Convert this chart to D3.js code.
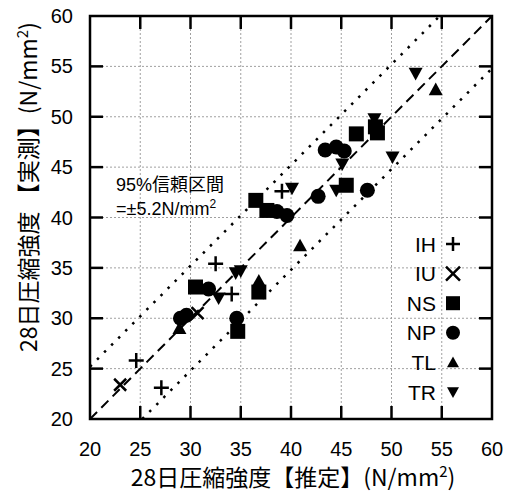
<!DOCTYPE html>
<html>
<head>
<meta charset="utf-8">
<script src="https://cdn.jsdelivr.net/npm/d3@7"></script>
<style>
body { margin: 0; background: #fff; }
text { font-family: "Liberation Sans", Arial, "Noto Sans CJK JP", sans-serif; fill: #000; }
.jp { font-family: "Noto Sans CJK JP", sans-serif; font-weight: normal; }
</style>
</head>
<body>
<div id="canvas"></div>
<script>
// data
const xTicks = [20, 25, 30, 35, 40, 45, 50, 55, 60];
const yTicks = [20, 25, 30, 35, 40, 45, 50, 55, 60];
const seriesNames = ["IH", "IU", "NS", "NP", "TL", "TR"];
const ihPoints = [[24.6, 25.8], [27.1, 23.1], [32.5, 35.4], [34.1, 32.4], [39.1, 42.6]];
const iuPoints = [[23.0, 23.4], [30.7, 30.5]];
const nsPoints = [[30.5, 33.1], [34.7, 28.7], [36.8, 32.6], [36.5, 41.7], [37.6, 40.7], [45.5, 43.2], [46.5, 48.3], [48.4, 49.0], [48.6, 48.4]];
const npPoints = [[29.0, 30.0], [29.6, 30.3], [31.8, 32.9], [34.6, 30.0], [38.6, 40.6], [39.6, 40.2], [42.7, 42.1], [43.4, 46.7], [44.5, 47.0], [45.3, 46.6], [47.6, 42.7]];
const tlPoints = [[28.9, 29.0], [36.8, 33.7], [40.9, 37.2], [54.4, 52.7]];
const trPoints = [[32.8, 32.0], [34.5, 34.5], [35.0, 34.7], [40.1, 42.9], [44.5, 42.7], [45.1, 45.3], [48.3, 49.8], [50.1, 46.0], [52.4, 54.3]];
const confidence = 5.2;

const seriesPoints = [ihPoints, iuPoints, nsPoints, npPoints, tlPoints, trPoints];
const seriesShapes = ["plus", "times", "square", "circle", "up", "down"];

const width = 515, height = 500;
const svg = d3.select("#canvas").append("svg")
    .attr("width", width)
    .attr("height", height);

const x = d3.scaleLinear().domain([20, 60]).range([90, 492]);
const y = d3.scaleLinear().domain([20, 60]).range([419, 16]);

// grid
svg.append("g").selectAll("line")
    .data(xTicks.slice(1, -1))
    .join("line")
    .attr("x1", d => x(d)).attr("x2", d => x(d))
    .attr("y1", y(20)).attr("y2", y(60))
    .attr("stroke", "#a0a0a0").attr("stroke-width", 1)
    .attr("stroke-dasharray", "2,2");
svg.append("g").selectAll("line")
    .data(yTicks.slice(1, -1))
    .join("line")
    .attr("y1", d => y(d)).attr("y2", d => y(d))
    .attr("x1", x(20)).attr("x2", x(60))
    .attr("stroke", "#a0a0a0").attr("stroke-width", 1)
    .attr("stroke-dasharray", "2,2");

// 1:1 line and 95% band
svg.append("line")
    .attr("x1", x(20)).attr("y1", y(20))
    .attr("x2", x(60)).attr("y2", y(60))
    .attr("stroke", "#000").attr("stroke-width", 2)
    .attr("stroke-dasharray", "10,6");
svg.append("line")
    .attr("x1", x(20)).attr("y1", y(20 + confidence))
    .attr("x2", x(60 - confidence)).attr("y2", y(60))
    .attr("stroke", "#000").attr("stroke-width", 2.5)
    .attr("stroke-dasharray", "2.5,7.5");
svg.append("line")
    .attr("x1", x(20 + confidence)).attr("y1", y(20))
    .attr("x2", x(60)).attr("y2", y(60 - confidence))
    .attr("stroke", "#000").attr("stroke-width", 2.5)
    .attr("stroke-dasharray", "2.5,7.5");

// frame and inner ticks on all sides
svg.append("rect")
    .attr("x", x(20)).attr("y", y(60))
    .attr("width", x(60) - x(20)).attr("height", y(20) - y(60))
    .attr("fill", "none").attr("stroke", "#000").attr("stroke-width", 2.5);

const tickLen = 13;
const tickGroup = svg.append("g").attr("stroke", "#000").attr("stroke-width", 2.5);
xTicks.slice(1, -1).forEach(d => {
    tickGroup.append("line").attr("x1", x(d)).attr("x2", x(d)).attr("y1", y(20)).attr("y2", y(20) - tickLen);
    tickGroup.append("line").attr("x1", x(d)).attr("x2", x(d)).attr("y1", y(60)).attr("y2", y(60) + tickLen);
});
yTicks.slice(1, -1).forEach(d => {
    tickGroup.append("line").attr("y1", y(d)).attr("y2", y(d)).attr("x1", x(20)).attr("x2", x(20) + tickLen);
    tickGroup.append("line").attr("y1", y(d)).attr("y2", y(d)).attr("x1", x(60)).attr("x2", x(60) - tickLen);
});

// tick labels
svg.append("g").selectAll("text")
    .data(xTicks)
    .join("text")
    .attr("x", d => x(d))
    .attr("y", 456)
    .attr("text-anchor", "middle")
    .attr("font-size", 20)
    .text(d => d);
svg.append("g").selectAll("text")
    .data(yTicks)
    .join("text")
    .attr("x", 73)
    .attr("y", d => y(d) + 7)
    .attr("text-anchor", "end")
    .attr("font-size", 20)
    .text(d => d);

// axis titles
const xTitle = svg.append("text")
    .attr("class", "jp")
    .attr("x", 293).attr("y", 486)
    .attr("text-anchor", "middle")
    .attr("font-size", 23);
xTitle.append("tspan").text("28日圧縮強度【推定】(N/mm");
xTitle.append("tspan").attr("font-size", 15).attr("dy", -9).text("2");
xTitle.append("tspan").attr("dy", 9).text(")");

const yTitle = svg.append("text")
    .attr("class", "jp")
    .attr("transform", "translate(37," + 187 + ") rotate(-90)")
    .attr("text-anchor", "middle")
    .attr("font-size", 23);
yTitle.append("tspan").text("28日圧縮強度 【実測】(N/mm");
yTitle.append("tspan").attr("font-size", 15).attr("dy", -9).text("2");
yTitle.append("tspan").attr("dy", 9).text(")");

// annotation
svg.append("text")
    .attr("x", 116).attr("y", 191)
    .attr("font-size", 18)
    .text("95%信頼区間");
const ann = svg.append("text")
    .attr("x", 116).attr("y", 215)
    .attr("font-size", 18);
ann.append("tspan").text("=±5.2N/mm");
ann.append("tspan").attr("font-size", 12).attr("dy", -7).text("2");

// marker shapes
function shapePath(shape, s) {
    const r = s / 2;
    if (shape === "plus") return `M${-r},0H${r}M0,${-r}V${r}`;
    if (shape === "times") return `M${-r},${-r}L${r},${r}M${-r},${r}L${r},${-r}`;
    if (shape === "square") return `M${-r},${-r}H${r}V${r}H${-r}Z`;
    if (shape === "circle") return `M${r},0A${r},${r} 0 1,1 ${-r},0A${r},${r} 0 1,1 ${r},0Z`;
    if (shape === "up") return `M0,${-r}L${r},${r * 0.8}L${-r},${r * 0.8}Z`;
    if (shape === "down") return `M0,${r}L${r},${-r * 0.8}L${-r},${-r * 0.8}Z`;
}
function styleMarker(sel, shape) {
    const stroked = shape === "plus" || shape === "times";
    sel.attr("fill", stroked ? "none" : "#000")
        .attr("stroke", stroked ? "#000" : "none")
        .attr("stroke-width", 2.5);
}

const markerSize = {plus: 15, times: 12, square: 15, circle: 15, up: 14, down: 14};

seriesPoints.forEach((points, i) => {
    const shape = seriesShapes[i];
    svg.append("g").selectAll("path")
        .data(points)
        .join("path")
        .attr("transform", d => `translate(${x(d[0])},${y(d[1])})`)
        .attr("d", shapePath(shape, markerSize[shape]))
        .call(styleMarker, shape);
});

// legend
const legend = svg.append("g");
seriesNames.forEach((name, i) => {
    const ly = 244 + i * 29.6;
    legend.append("text")
        .attr("x", 436).attr("y", ly + 7.5)
        .attr("text-anchor", "end")
        .attr("font-size", 21)
        .text(name);
    const shape = seriesShapes[i];
    legend.append("path")
        .attr("transform", `translate(453,${ly})`)
        .attr("d", shapePath(shape, shape === "up" || shape === "down" ? 12 : 14))
        .call(styleMarker, shape);
});
</script>
</body>
</html>
